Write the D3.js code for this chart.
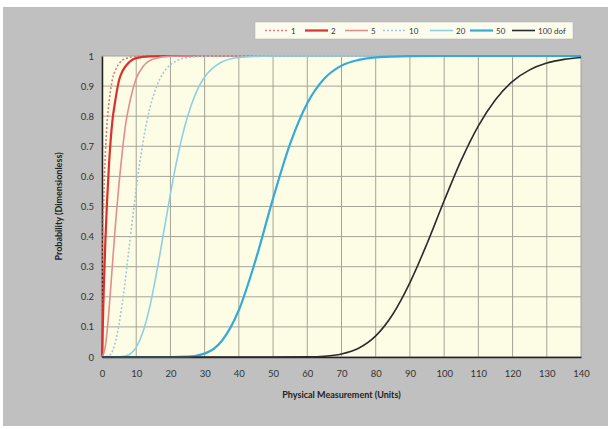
<!DOCTYPE html>
<html>
<head>
<meta charset="utf-8">
<script src="https://cdn.jsdelivr.net/npm/d3@7"></script>
<style>
  body { margin: 0; background: #ffffff; }
  svg text { font-family: Lato, "Open Sans", sans-serif; }
</style>
</head>
<body>
<div id="chart"></div>
<script>
'use strict';

var w = 611;
var h = 429;

// tick labels
var xTicks = [0, 10, 20, 30, 40, 50, 60, 70, 80, 90, 100, 110, 120, 130, 140];
var yTicks = [0, 0.1, 0.2, 0.3, 0.4, 0.5, 0.6, 0.7, 0.8, 0.9, 1];

// series names (degrees of freedom)
var seriesNames = ['1', '2', '5', '10', '20', '50', '100 dof'];

// points, x then probability
var x1 = [0, 0.25, 0.5, 1, 1.5, 2, 3, 4, 5, 6, 8, 10, 15, 140];
var y1 = [0, 0.38, 0.52, 0.68, 0.78, 0.84, 0.92, 0.955, 0.975, 0.986, 0.995, 0.998, 1, 1];

var x2 = [0, 0.5, 1, 2, 3, 4, 5, 6, 8, 10, 14, 20, 140];
var y2 = [0, 0.22, 0.39, 0.63, 0.78, 0.86, 0.92, 0.95, 0.98, 0.993, 0.999, 1, 1];

var x5 = [0, 1, 2, 3, 4, 5, 6, 7, 8, 10, 12, 15, 20, 25, 140];
var y5 = [0, 0.037, 0.15, 0.3, 0.45, 0.58, 0.69, 0.78, 0.84, 0.925, 0.965, 0.99, 0.999, 1, 1];

var x10 = [0, 2, 4, 6, 8, 10, 12, 14, 16, 18, 20, 25, 30, 35, 140];
var y10 = [0, 0.004, 0.053, 0.185, 0.37, 0.56, 0.715, 0.827, 0.9, 0.945, 0.971, 0.995, 0.999, 1, 1];

var x20 = [0, 4, 6, 8, 10, 12, 14, 16, 18, 20, 22, 24, 26, 28, 30, 35, 40, 45, 50, 140];
var y20 = [0, 0.0001, 0.0012, 0.0084, 0.032, 0.084, 0.169, 0.283, 0.412, 0.542, 0.66, 0.758, 0.834, 0.891, 0.93, 0.98, 0.995, 0.9988, 1, 1];

var x50 = [0, 20, 25, 30, 35, 40, 45, 50, 55, 60, 65, 70, 75, 80, 90, 100, 140];
var y50 = [0, 0.00005, 0.0012, 0.0113, 0.053, 0.156, 0.326, 0.527, 0.709, 0.843, 0.925, 0.968, 0.987, 0.9955, 0.9996, 1, 1];

var x100 = [0, 50, 60, 65, 70, 75, 80, 85, 90, 95, 100, 105, 110, 115, 120, 125, 130, 135, 140];
var y100 = [0, 0, 0.0005, 0.0026, 0.0099, 0.029, 0.07, 0.142, 0.247, 0.377, 0.519, 0.654, 0.768, 0.855, 0.916, 0.954, 0.9765, 0.9887, 0.9949];

var seriesX = [x1, x2, x5, x10, x20, x50, x100];
var seriesY = [y1, y2, y5, y10, y20, y50, y100];

// styles
var colors = ['#e07a7a', '#d9312e', '#e58c8c', '#9fc9da', '#8fcfe2', '#36aad6', '#2b2b2b'];
var widths = [1.6, 2.2, 1.6, 1.6, 1.6, 2.2, 1.6];
var dashes = ['2,2', null, null, '2,2', null, null, null];

var margin = { left: 102, right: 30, top: 56, bottom: 72 };

var svg = d3.select('#chart')
  .append('svg')
  .attr('width', w)
  .attr('height', h);

// outer chart area
svg.append('rect')
  .attr('x', 3)
  .attr('y', 7)
  .attr('width', 605)
  .attr('height', 419)
  .attr('fill', '#c0c0c0');

var x = d3.scaleLinear().domain([0, 140]).range([margin.left, w - margin.right]);
var y = d3.scaleLinear().domain([0, 1]).range([h - margin.bottom, margin.top]);

// plot area
svg.append('rect')
  .attr('x', x(0))
  .attr('y', y(1))
  .attr('width', x(140) - x(0))
  .attr('height', y(0) - y(1))
  .attr('fill', '#fdfde6');

// grid
svg.append('g')
  .selectAll('line.vgrid')
  .data(xTicks)
  .enter().append('line')
  .attr('x1', function(d) { return x(d); })
  .attr('x2', function(d) { return x(d); })
  .attr('y1', y(0))
  .attr('y2', y(1))
  .attr('stroke', '#a4a496')
  .attr('stroke-width', 1);

svg.append('g')
  .selectAll('line.hgrid')
  .data(yTicks)
  .enter().append('line')
  .attr('x1', x(0))
  .attr('x2', x(140))
  .attr('y1', function(d) { return y(d); })
  .attr('y2', function(d) { return y(d); })
  .attr('stroke', '#a4a496')
  .attr('stroke-width', 1);

// axes
var xAxis = d3.axisBottom(x).tickValues(xTicks).tickSize(0).tickPadding(13)
  .tickFormat(function(d) { return d; });
var yAxis = d3.axisLeft(y).tickValues(yTicks).tickSize(0).tickPadding(8)
  .tickFormat(function(d) { return d; });

var gx = svg.append('g')
  .attr('transform', 'translate(0,' + y(0) + ')')
  .call(xAxis);
var gy = svg.append('g')
  .attr('transform', 'translate(' + x(0) + ',0)')
  .call(yAxis);

gx.select('.domain').attr('stroke', '#222').attr('stroke-width', 1.5);
gy.select('.domain').attr('stroke', '#222').attr('stroke-width', 1.5);
svg.selectAll('.tick text')
  .attr('fill', '#333')
  .style('font-size', '9.5px');

// curves
var line = d3.line()
  .x(function(d) { return x(d[0]); })
  .y(function(d) { return y(d[1]); })
  .curve(d3.curveMonotoneX);

seriesNames.forEach(function(name, i) {
  var pts = seriesX[i].map(function(v, j) { return [v, seriesY[i][j]]; });
  svg.append('path')
    .datum(pts)
    .attr('d', line)
    .attr('fill', 'none')
    .attr('stroke', colors[i])
    .attr('stroke-width', widths[i])
    .attr('stroke-dasharray', dashes[i]);
});

// axis titles
svg.append('text')
  .attr('x', (x(0) + x(140)) / 2)
  .attr('y', 398)
  .attr('text-anchor', 'middle')
  .style('font-size', '9px')
  .style('font-weight', 'bold')
  .attr('fill', '#222')
  .text('Physical Measurement (Units)');

svg.append('text')
  .attr('transform', 'translate(62,' + ((y(0) + y(1)) / 2) + ') rotate(-90)')
  .attr('text-anchor', 'middle')
  .style('font-size', '9px')
  .style('font-weight', 'bold')
  .attr('fill', '#222')
  .text('Probability (Dimensionless)');

// legend
var legend = svg.append('g');
legend.append('rect')
  .attr('x', 255)
  .attr('y', 22)
  .attr('width', 318)
  .attr('height', 17)
  .attr('fill', '#fcfcee')
  .attr('stroke', '#b0b0a8')
  .attr('stroke-width', 0.5);

var legX = [265, 305, 345, 383, 430, 470, 512];
seriesNames.forEach(function(name, i) {
  legend.append('line')
    .attr('x1', legX[i])
    .attr('x2', legX[i] + 23)
    .attr('y1', 30.5)
    .attr('y2', 30.5)
    .attr('stroke', colors[i])
    .attr('stroke-width', widths[i])
    .attr('stroke-dasharray', dashes[i]);
  legend.append('text')
    .attr('x', legX[i] + 26)
    .attr('y', 33.5)
    .style('font-size', '8px')
    .attr('fill', '#333')
    .text(name);
});
</script>
</body>
</html>
